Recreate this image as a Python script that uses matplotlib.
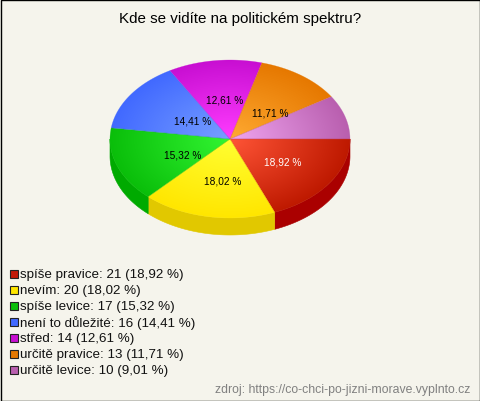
import numpy as np
import matplotlib
matplotlib.use("Agg")
import matplotlib.pyplot as plt
from matplotlib.patches import PathPatch, Polygon, Rectangle
from matplotlib.path import Path

title = "Kde se vidíte na politickém spektru?"
categories = ["spíše pravice", "nevím", "spíše levice", "není to důležité",
              "střed", "určitě pravice", "určitě levice"]
counts = [21, 20, 17, 16, 14, 13, 10]
percents = [18.92, 18.02, 15.32, 14.41, 12.61, 11.71, 9.01]
source = "zdroj: https://co-chci-po-jizni-morave.vyplnto.cz"

inner = ["#FF5537", "#FFFF32", "#32F532", "#78A0FF", "#FF3CFF", "#FFAA32", "#F0A5F0"]
outer = ["#BE1900", "#FFE600", "#0ABE0A", "#4169FF", "#C80FD2", "#E67800", "#B95FAF"]
side = ["#AA0000", "#E1C800", "#00AA00", "#2A4FC0", "#9A0AA0", "#B05C00", "#8A4683"]
legend_c = ["#C21807", "#FFE600", "#0ABE0A", "#4169FF", "#C80FD2", "#E67800", "#B95FAF"]
label_c = ["white", "black", "black", "black", "black", "black", None]
label_fx = [0.53, 0.32, 0.415, 0.38, 0.33, 0.56, 0.5]
label_fy = [0.50, 0.53, 0.60, 0.41, 0.51, 0.42, 0.5]

BG = "#F5F4EC"
cx, cy, rx, ry, depth = 230, 140, 120, 79, 17

plt.rcParams["font.family"] = ["Liberation Sans", "DejaVu Sans"]
fig = plt.figure(figsize=(4.8, 4.02), dpi=100, facecolor=BG)
ax = fig.add_axes([0, 0, 1, 1])
ax.set_xlim(0, 480)
ax.set_ylim(402, 0)
ax.axis("off")


def rgb(h):
    return np.array(matplotlib.colors.to_rgb(h))


def arc(a0, a1, dy=0):
    t = np.radians(np.linspace(a0, a1, max(int(abs(a1 - a0)) * 2, 2)))
    return np.c_[cx + rx * np.cos(t), cy + dy + ry * np.sin(t)]


vals = np.array(counts, float)
edges = np.r_[0, np.cumsum(vals)] / vals.sum() * 360

# side wall (front half only)
for i in range(len(vals)):
    a0, a1 = edges[i], min(edges[i + 1], 180)
    if a0 < 180:
        pts = np.r_[arc(a0, a1), arc(a0, a1, depth)[::-1]]
        ax.add_patch(Polygon(pts, closed=True, fc=side[i], ec=side[i], lw=0.4, zorder=2))

# top face, radial gradient clipped to each wedge
xx, yy = np.meshgrid(np.linspace(cx - rx, cx + rx, 482), np.linspace(cy - ry, cy + ry, 320))
rr = np.clip(np.hypot((xx - cx) / rx, (yy - cy) / ry), 0, 1)[..., None]
for i in range(len(vals)):
    img = rgb(inner[i]) * (1 - rr) + rgb(outer[i]) * rr
    pts = np.r_[[[cx, cy]], arc(edges[i], edges[i + 1]), [[cx, cy]]]
    patch = PathPatch(Path(pts), fc="none", ec="none", transform=ax.transData)
    ax.add_patch(patch)
    im = ax.imshow(img, extent=(cx - rx, cx + rx, cy + ry, cy - ry), zorder=3,
                   interpolation="bilinear", aspect="auto")
    im.set_clip_path(patch)
    ax.add_patch(PathPatch(Path(pts), fc="none", ec=outer[i], lw=0.3, alpha=0.6, zorder=3.5))
ax.set_xlim(0, 480)
ax.set_ylim(402, 0)

fmt = lambda p: f"{p:.2f}".replace(".", ",") + " %"
for i, p in enumerate(percents):
    if label_c[i] is None:
        continue
    m = np.radians((edges[i] + edges[i + 1]) / 2)
    ax.text(cx + label_fx[i] * rx * np.cos(m), cy + label_fy[i] * ry * np.sin(m), fmt(p),
            color=label_c[i], fontsize=7.3, ha="center", va="center", zorder=5)

ax.text(240, 19.5, title, fontsize=10.9, color="black", ha="center", va="center")

for i, (c, n, p) in enumerate(zip(categories, counts, percents)):
    y = 274.5 + i * 16
    ax.add_patch(Rectangle((9.5, y - 4), 8, 8, fc=legend_c[i], ec="#222222", lw=0.8, zorder=4))
    ax.text(20, y + 0.3, f"{c}: {n} ({fmt(p)})", fontsize=9.65, color="#111111", ha="left", va="center")

ax.text(470, 390, source, fontsize=8.8, color="#808080", ha="right", va="center")
ax.add_patch(Rectangle((0.5, 0.5), 479, 401, fc="none", ec="black", lw=1.0, zorder=6))

fig.savefig("out.png", dpi=100, facecolor=BG)
